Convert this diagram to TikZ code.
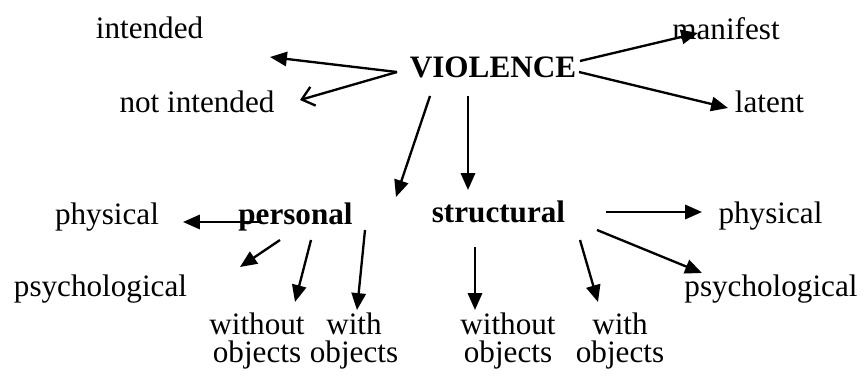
\documentclass[tikz,border=0pt]{standalone}
\usepackage{fontspec}
\setmainfont{Liberation Serif}
\usetikzlibrary{arrows.meta}

\begin{document}
\begin{tikzpicture}%
    [x=0.385pt, y=-0.385pt,
    label/.style={inner sep=0pt, anchor=base, align=center, font=\fontsize{12}{11}\selectfont},
    head/.style={label, font=\fontsize{12}{11}\selectfont\bfseries},
    arrow/.style={line width=0.9pt, -{Triangle[length=6.5pt, width=5.5pt]}},
    open/.style={line width=0.9pt, -{Straight Barb[length=4.5pt, width=7.5pt, line width=0.9pt]}}]

    \useasboundingbox (0,0) rectangle (865,377);

    % top row
    \node [head]  (violence)     at (493, 78)   {VIOLENCE};
    \node [label] (intended)     at (149.5, 39) {intended};
    \node [label] (notintended)  at (197, 113)  {not intended};
    \node [label] (manifest)     at (726, 40)   {manifest};
    \node [label] (latent)       at (769.5, 113) {latent};

    % second row
    \node [head]  (personal)     at (295.5, 225) {personal};
    \node [head]  (structural)   at (498.5, 223) {structural};
    \node [label] (physicalP)    at (107, 225)  {physical};
    \node [label] (psychoP)      at (100.5, 297) {psychological};
    \node [label] (physicalS)    at (770.5, 224) {physical};
    \node [label] (psychoS)      at (771, 297)  {psychological};

    % objects (base = last line)
    \node [label] (withoutP)     at (257, 363)  {without\\objects};
    \node [label] (withP)        at (354, 363)  {with\\objects};
    \node [label] (withoutS)     at (508, 363)  {without\\objects};
    \node [label] (withS)        at (620, 363)  {with\\objects};

    % arrow ends
    \coordinate (vl)  at (397, 72);
    \coordinate (vr1) at (580, 61);
    \coordinate (vr2) at (579, 72);
    \coordinate (vd1) at (430, 96);
    \coordinate (vd2) at (468, 96);
    \coordinate (int) at (270, 57);
    \coordinate (nint) at (300, 100);
    \coordinate (man) at (698, 33);
    \coordinate (lat) at (728, 108);
    \coordinate (per) at (396, 197);
    \coordinate (str) at (468, 190);

    \coordinate (p1) at (262, 222);  \coordinate (p1e) at (183, 222);
    \coordinate (p2) at (280, 240);  \coordinate (p2e) at (240, 267);
    \coordinate (p3) at (311, 240);  \coordinate (p3e) at (295, 302);
    \coordinate (p4) at (365, 230);  \coordinate (p4e) at (357, 310);

    \coordinate (s1) at (606, 212);  \coordinate (s1e) at (702, 212);
    \coordinate (s2) at (597, 230);  \coordinate (s2e) at (702, 273);
    \coordinate (s3) at (475, 247);  \coordinate (s3e) at (475, 310);
    \coordinate (s4) at (580, 240);  \coordinate (s4e) at (598, 302);

    \draw [arrow] (vl) -- (int);
    \draw [open]  (vl) -- (nint);
    \draw [arrow] (vr1) -- (man);
    \draw [arrow] (vr2) -- (lat);
    \draw [arrow] (vd1) -- (per);
    \draw [arrow] (vd2) -- (str);

    \draw [arrow] (p1) -- (p1e);
    \draw [arrow] (p2) -- (p2e);
    \draw [arrow] (p3) -- (p3e);
    \draw [arrow] (p4) -- (p4e);

    \draw [arrow] (s1) -- (s1e);
    \draw [arrow] (s2) -- (s2e);
    \draw [arrow] (s3) -- (s3e);
    \draw [arrow] (s4) -- (s4e);
\end{tikzpicture}
\end{document}
